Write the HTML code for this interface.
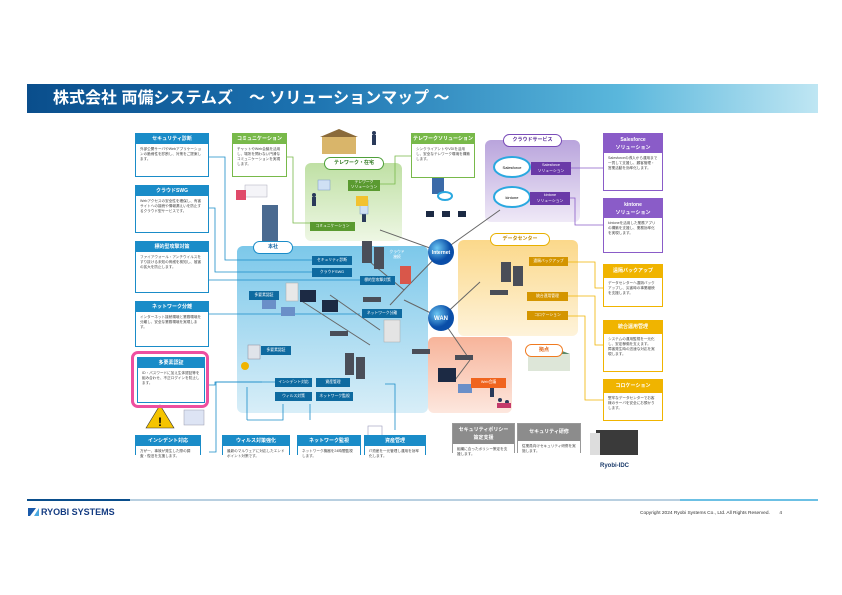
<!DOCTYPE html>
<html><head><meta charset="utf-8"><style>
*{margin:0;padding:0;box-sizing:border-box}
body{width:842px;height:595px;background:#fff;position:relative;overflow:hidden;font-family:"Liberation Sans","Noto Sans CJK JP",sans-serif}
.a{position:absolute}
.box{position:absolute;background:#fff;border:1.5px solid #1a8cc8}
.hd{background:#1a8cc8;color:#fff;font-size:5px;font-weight:bold;text-align:center;line-height:10px;height:10px;white-space:nowrap;overflow:hidden}
.tx{font-size:3.6px;line-height:5px;color:#444;padding:3px 4px;overflow:hidden}
.g{border-color:#78b94a}.g .hd{background:#78b94a}
.p{border-color:#8a5cc8}.p .hd{background:#8a5cc8}
.y{border-color:#f0b400}.y .hd{background:#f0b400}
.gr{border-color:#999}.gr .hd{background:#8c8c8c}
.lbl{position:absolute;color:#fff;font-size:3.8px;text-align:center;line-height:9px;height:9px;white-space:nowrap}
.pill{position:absolute;background:#fff;border-radius:7px;font-size:5px;font-weight:bold;text-align:center;line-height:11px;height:13px}
</style></head><body>
<div class="a" style="left:27px;top:84px;width:791px;height:29px;background:linear-gradient(90deg,#0a4e8c 0%,#1c72b0 35%,#5ab7dc 75%,#bfe6f3 100%)"></div>
<div class="a" style="left:53px;top:88px;color:#fff;font-size:16px;font-weight:bold;line-height:21px;white-space:nowrap">株式会社 両備システムズ　～ ソリューションマップ ～</div>

<svg class="a" style="left:0;top:0" width="842" height="595">
<defs>
<linearGradient id="gb" x1="0" y1="0" x2="0" y2="1"><stop offset="0" stop-color="#7cc8ea"/><stop offset="1" stop-color="#d8eef8"/></linearGradient>
<linearGradient id="gg" x1="0" y1="0" x2="0" y2="1"><stop offset="0" stop-color="#bfe0a4"/><stop offset="1" stop-color="#eef7e4"/></linearGradient>
<linearGradient id="gp" x1="0" y1="0" x2="0" y2="1"><stop offset="0" stop-color="#b9a4dc"/><stop offset="1" stop-color="#efe9f7"/></linearGradient>
<linearGradient id="gy" x1="0" y1="0" x2="0" y2="1"><stop offset="0" stop-color="#fbd88a"/><stop offset="1" stop-color="#fef3da"/></linearGradient>
<linearGradient id="gs" x1="0" y1="0" x2="0" y2="1"><stop offset="0" stop-color="#f7b49a"/><stop offset="1" stop-color="#fde7de"/></linearGradient>
<radialGradient id="gc" cx=".35" cy=".35"><stop offset="0" stop-color="#6cc8f4"/><stop offset="1" stop-color="#0a4ea8"/></radialGradient>
</defs>
<rect x="237" y="246" width="191" height="167" rx="6" fill="url(#gb)"/>
<rect x="305" y="163" width="97" height="78" rx="6" fill="url(#gg)"/>
<rect x="485" y="140" width="95" height="82" rx="6" fill="url(#gp)"/>
<rect x="458" y="240" width="120" height="96" rx="6" fill="url(#gy)"/>
<rect x="428" y="337" width="84" height="76" rx="6" fill="url(#gs)"/>
<g fill="none" stroke-width=".8">
<path d="M209 157 H225 V260 H312" stroke="#1a8cc8"/>
<path d="M209 208 H215 V272 H312" stroke="#1a8cc8"/>
<path d="M209 280 H360" stroke="#1a8cc8"/>
<path d="M209 314 H360" stroke="#1a8cc8"/>
<path d="M209 385 H215 V382 H262" stroke="#1a8cc8"/>
<path d="M209 452 H216 V382 H275" stroke="#1a8cc8"/>
<path d="M247 420 V387" stroke="#1a8cc8"/><path d="M247 420 H283 V404" stroke="#1a8cc8"/>
<path d="M310 420 V404" stroke="#1a8cc8"/><path d="M395 430 V384 H385" stroke="#1a8cc8"/>
<path d="M287 157 H293 V223 H310" stroke="#78b94a"/>
<path d="M380 184 H395 V156 H411" stroke="#78b94a"/>
<path d="M570 168 H603" stroke="#8a5cc8"/><path d="M570 198 H575 V225 H603" stroke="#8a5cc8"/>
<path d="M568 262 H595 V288 H603" stroke="#f0b400"/><path d="M568 296 H595 V345 H603" stroke="#f0b400"/><path d="M568 316 H585 V400 H603" stroke="#f0b400"/>
</g>
<g stroke="#666" stroke-width="1" fill="none">
<path d="M380 230 L441 252"/><path d="M441 252 L500 210"/><path d="M441 252 L404 290"/>
<path d="M441 318 L404 300"/><path d="M441 318 L480 282"/><path d="M441 318 L470 360"/>
<path d="M470 360 L455 380"/><path d="M370 262 L404 290 L390 305"/>
<path d="M300 300 L370 345"/><path d="M330 295 L380 330"/>
</g>
<circle cx="441" cy="252" r="13" fill="url(#gc)"/><text x="441" y="254" font-size="5" fill="#fff" text-anchor="middle" font-weight="bold" font-family="Liberation Sans">Internet</text>
<circle cx="441" cy="318" r="13" fill="url(#gc)"/><text x="441" y="320" font-size="6" fill="#fff" text-anchor="middle" font-weight="bold" font-family="Liberation Sans">WAN</text>
<g fill="#4a4e58"><rect x="362" y="241" width="10" height="22"/><rect x="374" y="247" width="10" height="22"/>
<rect x="501" y="262" width="10" height="20"/><rect x="513" y="266" width="10" height="20"/>
<rect x="345" y="353" width="9" height="22"/><rect x="356" y="357" width="9" height="22"/>
<rect x="330" y="331" width="18" height="5"/><rect x="412" y="349" width="18" height="5"/><rect x="363" y="297" width="18" height="5"/>
<rect x="490" y="290" width="18" height="5"/><rect x="455" y="355" width="18" height="5"/>
</g>
<rect x="432" y="152" width="12" height="42" fill="#3b6aa8"/>
<rect x="262" y="205" width="16" height="40" fill="#4a6a90"/>
<rect x="400" y="266" width="11" height="18" fill="#d9574a"/>
<g fill="#fff" stroke="#2aa8e0" stroke-width="2"><ellipse cx="512" cy="167" rx="18" ry="10"/><ellipse cx="512" cy="197" rx="18" ry="10"/><ellipse cx="445" cy="196" rx="7" ry="4"/></g>
<text x="512" y="169" font-size="4" text-anchor="middle" font-family="Liberation Sans">Salesforce</text>
<text x="512" y="199" font-size="4" text-anchor="middle" font-family="Liberation Sans">kintone</text>
<g fill="#1c2a44"><rect x="300" y="290" width="16" height="12"/><rect x="322" y="300" width="16" height="12"/><rect x="438" y="368" width="18" height="14"/><rect x="426" y="211" width="8" height="6"/><rect x="442" y="211" width="8" height="6"/><rect x="458" y="211" width="8" height="6"/></g>
<g fill="#6a8fc8"><rect x="262" y="300" width="14" height="9"/><rect x="281" y="307" width="14" height="9"/><rect x="458" y="384" width="14" height="9"/></g>
<rect x="286" y="283" width="12" height="18" fill="#e8e8e8" stroke="#aaa" stroke-width=".5"/>
<rect x="384" y="320" width="16" height="22" fill="#e4e4e4" stroke="#aaa" stroke-width=".5"/>
<!-- people / illustrations -->
<g fill="#2a3a5a"><circle cx="374" cy="133" r="2"/><rect x="372" y="135" width="4" height="10"/>
<circle cx="314" cy="195" r="2"/><rect x="312" y="197" width="4" height="9"/>
<circle cx="364" cy="212" r="2"/><rect x="362" y="214" width="4" height="8"/>
<circle cx="492" cy="385" r="2"/><rect x="490" y="387" width="4" height="10"/>
<circle cx="500" cy="400" r="2"/><circle cx="507" cy="402" r="2"/><rect x="497" y="403" width="14" height="5" fill="#c43a6a"/>
<circle cx="254" cy="352" r="3"/></g>
<rect x="318" y="180" width="12" height="10" fill="#cfe0f4" stroke="#7a9ac8" stroke-width=".5"/>
<rect x="360" y="200" width="8" height="14" fill="#cfe0f4" stroke="#7a9ac8" stroke-width=".5"/>
<rect x="356" y="196" width="12" height="10" fill="#f2c230"/>
<rect x="248" y="345" width="12" height="14" fill="#e0e4ea" stroke="#889" stroke-width=".5"/>
<circle cx="245" cy="366" r="4" fill="#f0b400"/>
<rect x="245" y="185" width="22" height="12" fill="#f4f4f8" stroke="#aab" stroke-width=".5"/><rect x="236" y="190" width="10" height="10" fill="#e04a6a"/>
<rect x="184" y="410" width="20" height="15" fill="#dde4f4" stroke="#99a" stroke-width=".5"/>
<rect x="322" y="136" width="34" height="18" fill="#d9b56a"/><polygon points="320,137 339,129 358,137" fill="#8a6a3a"/>
<rect x="528" y="354" width="42" height="17" fill="#dde6d8"/><polygon points="528,354 549,346 570,354" fill="#5a8a6a"/>
<rect x="596" y="430" width="42" height="25" fill="#3a3a3a"/><rect x="590" y="433" width="10" height="22" fill="#ddd"/>
<text x="600" y="467" font-size="6" font-weight="bold" fill="#1a3a6a" font-family="Liberation Sans">Ryobi-IDC</text>
<polygon points="146,428 160,405 174,428" fill="#f5c400" stroke="#333" stroke-width=".6"/><text x="160" y="426" font-size="12" text-anchor="middle" font-weight="bold">!</text>
<rect x="368" y="426" width="14" height="18" fill="#fff" stroke="#99b" stroke-width=".6"/>
<rect x="27" y="499" width="791" height="2" fill="#0a4e8c"/><rect x="130" y="499" width="550" height="2" fill="#b8cfe0"/><rect x="680" y="499" width="138" height="2" fill="#6cc0e4"/>
<polygon points="28,508 36,508 30,516 28,516" fill="#1a5aaa"/><polygon points="34,516 39,508 39,516" fill="#4aa8e0"/>
<text x="41" y="515" font-size="9" font-weight="bold" fill="#143c82" font-family="Liberation Sans">RYOBI SYSTEMS</text>
<text x="640" y="514" font-size="4.8" fill="#333" font-family="Liberation Sans">Copyright 2024 Ryobi Systems Co., Ltd. All Rights Reserved.　　4</text>
</svg>

<div class="a" style="left:131px;top:351px;width:78px;height:57px;border:3px solid #ee4fa0;border-radius:7px"></div>

<div class="box" style="left:135px;top:133px;width:74px;height:44px"><div class="hd">セキュリティ診断</div><div class="tx">外部公開サーバやWebアプリケーションの脆弱性を診断し、対策をご提案します。</div></div>
<div class="box" style="left:135px;top:185px;width:74px;height:48px"><div class="hd">クラウドSWG</div><div class="tx">Webアクセスの安全性を確保し、有害サイトへの接続や情報漏えいを防止するクラウド型サービスです。</div></div>
<div class="box" style="left:135px;top:241px;width:74px;height:52px"><div class="hd">標的型攻撃対策</div><div class="tx">ファイアウォール・アンチウイルスをすり抜ける未知の脅威を検知し、被害の拡大を防止します。</div></div>
<div class="box" style="left:135px;top:301px;width:74px;height:46px"><div class="hd">ネットワーク分離</div><div class="tx">インターネット接続環境と業務環境を分離し、安全な業務環境を実現します。</div></div>
<div class="box" style="left:137px;top:357px;width:68px;height:46px"><div class="hd">多要素認証</div><div class="tx">ID・パスワードに加え生体認証等を組み合わせ、不正ログインを防止します。</div></div>
<div class="box" style="left:135px;top:435px;width:66px;height:20px;border-bottom:none"><div class="hd">インシデント対応</div><div class="tx">万が一、事故が発生した際の調査・復旧を支援します。</div></div>
<div class="box" style="left:222px;top:435px;width:68px;height:20px;border-bottom:none"><div class="hd">ウィルス対策強化</div><div class="tx">最新のマルウェアに対応したエンドポイント対策です。</div></div>
<div class="box" style="left:297px;top:435px;width:64px;height:20px;border-bottom:none"><div class="hd">ネットワーク監視</div><div class="tx">ネットワーク機器を24時間監視します。</div></div>
<div class="box" style="left:364px;top:435px;width:62px;height:20px;border-bottom:none"><div class="hd">資産管理</div><div class="tx">IT資産を一元管理し運用を効率化します。</div></div>
<div class="box gr" style="left:452px;top:423px;width:63px;height:30px;border-bottom:none"><div class="hd" style="height:20px;line-height:8px;padding-top:2px">セキュリティポリシー<br>策定支援</div><div class="tx">組織に合ったポリシー策定を支援します。</div></div>
<div class="box gr" style="left:517px;top:423px;width:64px;height:30px;border-bottom:none"><div class="hd" style="height:17px;line-height:17px">セキュリティ研修</div><div class="tx">従業員向けセキュリティ研修を実施します。</div></div>

<div class="box g" style="left:232px;top:133px;width:55px;height:44px"><div class="hd">コミュニケーション</div><div class="tx">チャットやWeb会議を活用し、場所を問わない円滑なコミュニケーションを実現します。</div></div>
<div class="box g" style="left:411px;top:133px;width:64px;height:45px"><div class="hd">テレワークソリューション</div><div class="tx">シンクライアントやVDIを活用し、安全なテレワーク環境を構築します。</div></div>
<div class="pill" style="left:324px;top:157px;width:60px;border:1.5px solid #4fa03a;color:#2f7a20">テレワーク・在宅</div>
<div class="lbl" style="left:348px;top:180px;width:32px;height:11px;line-height:5px;background:#5a9a30">テレワーク<br>ソリューション</div>
<div class="lbl" style="left:310px;top:222px;width:45px;background:#5a9a30">コミュニケーション</div>

<div class="pill" style="left:253px;top:241px;width:40px;border:1.5px solid #1a8cc8;color:#1a6aa8">本社</div>
<div class="lbl" style="left:312px;top:256px;width:40px;background:#0e6aa0">セキュリティ診断</div>
<div class="lbl" style="left:312px;top:268px;width:40px;background:#0e6aa0">クラウドSWG</div>
<div class="lbl" style="left:360px;top:276px;width:35px;background:#0e6aa0">標的型攻撃対策</div>
<div class="lbl" style="left:249px;top:291px;width:30px;background:#0e6aa0">多要素認証</div>
<div class="lbl" style="left:362px;top:309px;width:40px;background:#0e6aa0">ネットワーク分離</div>
<div class="lbl" style="left:261px;top:346px;width:30px;background:#0e6aa0">多要素認証</div>
<div class="lbl" style="left:275px;top:378px;width:37px;background:#0e6aa0">インシデント対応</div>
<div class="lbl" style="left:316px;top:378px;width:34px;background:#0e6aa0">資産管理</div>
<div class="lbl" style="left:275px;top:392px;width:37px;background:#0e6aa0">ウィルス対策</div>
<div class="lbl" style="left:316px;top:392px;width:37px;background:#0e6aa0">ネットワーク監視</div>
<div class="lbl" style="left:386px;top:250px;width:22px;color:#fff;line-height:5px;height:10px">クラウド<br>接続</div>

<div class="pill" style="left:503px;top:134px;width:59px;border:1.5px solid #7a4cb8;color:#5a2c98">クラウドサービス</div>
<div class="lbl" style="left:531px;top:162px;width:40px;height:13px;line-height:6px;background:#6a3aa8">Salesforce<br>ソリューション</div>
<div class="lbl" style="left:530px;top:192px;width:40px;height:13px;line-height:6px;background:#6a3aa8">kintone<br>ソリューション</div>
<div class="box p" style="left:603px;top:133px;width:60px;height:58px"><div class="hd" style="height:19px;line-height:8px;padding-top:2px">Salesforce<br>ソリューション</div><div class="tx">Salesforceの導入から運用まで一貫して支援し、顧客管理・営業活動を効率化します。</div></div>
<div class="box p" style="left:603px;top:198px;width:60px;height:55px"><div class="hd" style="height:19px;line-height:8px;padding-top:2px">kintone<br>ソリューション</div><div class="tx">kintoneを活用した業務アプリの構築を支援し、業務効率化を実現します。</div></div>

<div class="pill" style="left:490px;top:233px;width:60px;border:1.5px solid #e8b000;color:#c08a00">データセンター</div>
<div class="lbl" style="left:529px;top:257px;width:39px;background:#d49500">遠隔バックアップ</div>
<div class="lbl" style="left:527px;top:292px;width:41px;background:#d49500">統合運用管理</div>
<div class="lbl" style="left:527px;top:311px;width:41px;background:#d49500">コロケーション</div>
<div class="box y" style="left:603px;top:264px;width:60px;height:43px"><div class="hd" style="height:13px;line-height:13px">遠隔バックアップ</div><div class="tx">データセンターへ遠隔バックアップし、災害時の事業継続を支援します。</div></div>
<div class="box y" style="left:603px;top:320px;width:60px;height:52px"><div class="hd" style="height:13px;line-height:13px">統合運用管理</div><div class="tx">システムの運用監視を一元化し、安定稼働を支えます。<br>障害発生時の迅速な対応を実現します。</div></div>
<div class="box y" style="left:603px;top:379px;width:60px;height:42px"><div class="hd" style="height:13px;line-height:13px">コロケーション</div><div class="tx">堅牢なデータセンターでお客様のサーバを安全にお預かりします。</div></div>

<div class="pill" style="left:525px;top:344px;width:38px;border:1.5px solid #f07a20;color:#e06010">拠点</div>
<div class="lbl" style="left:471px;top:378px;width:35px;height:10px;background:#f0641e">Web会議</div>
</body></html>
